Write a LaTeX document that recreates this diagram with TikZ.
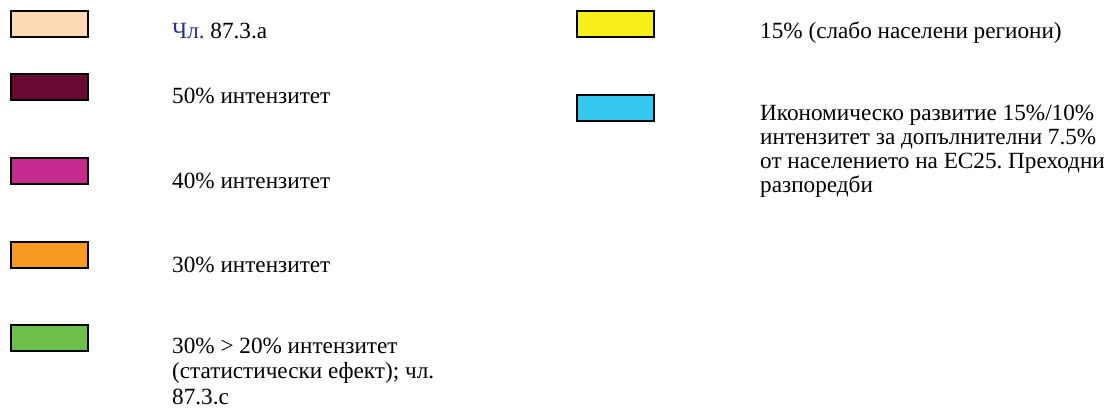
\documentclass[tikz,border=0pt]{standalone}
\usepackage{fontspec}
\setmainfont{Liberation Serif}
\definecolor{cPeach}{RGB}{253,217,181}
\definecolor{cMaroon}{RGB}{104,10,50}
\definecolor{cMagenta}{RGB}{199,42,142}
\definecolor{cOrange}{RGB}{249,155,33}
\definecolor{cGreen}{RGB}{108,191,71}
\definecolor{cYellow}{RGB}{247,238,26}
\definecolor{cCyan}{RGB}{51,198,240}
\definecolor{cNavy}{RGB}{46,49,140}
\frenchspacing
\begin{document}
\begin{tikzpicture}[x=1pt,y=-1pt,
  swatch/.style={draw=black,line width=1.6pt,minimum width=77pt,minimum height=26pt,inner sep=0pt,anchor=north west},
  lab/.style={anchor=base west,inner sep=0pt,align=left,font=\fontsize{23.2}{25.5}\selectfont},
  labR/.style={anchor=base west,inner sep=0pt,align=left,font=\fontsize{23.2}{24}\selectfont}]
\useasboundingbox (0,0) rectangle (1110,410);
\node[swatch,fill=cPeach] (s1) at (10,10) {};
\node[swatch,fill=cMaroon] (s2) at (10,73) {};
\node[swatch,fill=cMagenta] (s3) at (10,157) {};
\node[swatch,fill=cOrange] (s4) at (10,241) {};
\node[swatch,fill=cGreen] (s5) at (10,324) {};
\node[swatch,fill=cYellow] (s6) at (576,10) {};
\node[swatch,fill=cCyan] (s7) at (576,94) {};
\node[lab] (t1) at (172,38) {\textcolor{cNavy}{Чл.} 87.3.а};
\node[lab] (t2) at (172,103) {50\% интензитет};
\node[lab] (t3) at (172,188) {40\% интензитет};
\node[lab] (t4) at (172,272) {30\% интензитет};
\node[lab] (t5) at (172,404) {30\% > 20\% интензитет\\(статистически ефект); чл.\\87.3.с};
\node[lab] (t6) at (760,38) {15\% (слабо населени региони)};
\node[labR] (t7) at (760,192) {Икономическо развитие 15\%/10\%\\интензитет за допълнителни 7.5\%\\от населението на ЕС25. Преходни\\разпоредби};
\end{tikzpicture}
\end{document}
